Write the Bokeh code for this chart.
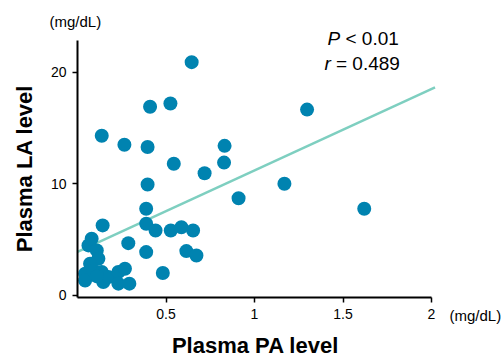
import math
from bokeh.plotting import figure
from bokeh.models import Label, FixedTicker, Range1d
from bokeh.embed import file_html
from bokeh.resources import INLINE

# ---- data ----
pa_level = [0.645, 0.41, 0.525, 0.137, 0.265, 0.396, 0.831, 0.544, 0.718, 0.828,
            0.396, 0.91, 0.388, 1.297, 1.169, 1.62,
            0.388, 0.441, 0.527, 0.587, 0.653, 0.388, 0.615, 0.672, 0.482, 0.142, 0.287,
            0.062, 0.08, 0.109, 0.118, 0.071, 0.043, 0.043, 0.09, 0.137, 0.146, 0.175,
            0.231, 0.268, 0.231, 0.293, 0.11]
la_level = [20.9, 16.9, 17.2, 14.3, 13.5, 13.3, 13.4, 11.8, 10.95, 11.9,
            9.94, 8.7, 7.76, 16.65, 10.0, 7.76,
            6.42, 5.82, 5.82, 6.11, 5.82, 3.88, 3.97, 3.58, 2.0, 6.27, 4.68,
            4.48, 5.07, 4.03, 3.28, 2.84, 1.94, 1.34, 2.24, 2.09, 1.19, 1.64,
            2.09, 2.39, 1.05, 1.05, 1.7]
fit_intercept = 3.9
fit_slope = 7.3
fit_x = [0.0, 2.02]
fit_y = [fit_intercept + fit_slope * v for v in fit_x]
x_ticks = [0.5, 1, 1.5, 2]
y_ticks = [0, 10, 20]
x_axis_span = (0.0, 2.0)
y_axis_span = (-0.19, 22.84)

FONT = "Liberation Sans"
DOT = "#0083b0"
LINE = "#7ecfc0"

W, H = 503, 358
PPU_X = 177.0
PPU_Y = 257 / 23.03
X0_PX, Y0_PX = 77, 297  # page pixel of (x_axis_span[0], y_axis_span[0])

x_start = x_axis_span[0] - X0_PX / PPU_X
x_end = x_axis_span[0] + (W - X0_PX) / PPU_X
y_start = y_axis_span[0] - (H - Y0_PX) / PPU_Y
y_end = y_axis_span[0] + Y0_PX / PPU_Y

p = figure(width=W, height=H, min_border=0,
           x_range=Range1d(x_start, x_end), y_range=Range1d(y_start, y_end),
           output_backend="svg", toolbar_location=None)
p.outline_line_color = None
p.grid.visible = False
p.background_fill_color = "white"
p.border_fill_color = "white"

for ax in (p.xaxis[0], p.yaxis[0]):
    ax.axis_line_width = 2
    ax.axis_line_color = "black"
    ax.major_tick_line_color = "black"
    ax.major_tick_line_width = 1.5
    ax.major_tick_out = 5
    ax.major_tick_in = 0
    ax.minor_tick_line_color = None
    ax.major_label_text_font = FONT
    ax.major_label_text_font_size = "14px"
    ax.major_label_text_color = "black"

p.xaxis.fixed_location = y_axis_span[0]
p.yaxis.fixed_location = x_axis_span[0]
p.xaxis.bounds = x_axis_span
p.yaxis.bounds = y_axis_span
p.xaxis.ticker = FixedTicker(ticks=x_ticks)
p.yaxis.ticker = FixedTicker(ticks=y_ticks)
p.xaxis.major_label_overrides = {0.5: "0.5", 1: "1", 1.5: "1.5", 2: "2"}
p.yaxis.major_label_overrides = {0: "0", 10: "10", 20: "20"}
p.xaxis.major_label_standoff = 6
p.yaxis.major_label_standoff = 6

p.line(fit_x, fit_y, line_color=LINE, line_width=2.5)
p.scatter(pa_level, la_level, size=14, fill_color=DOT, line_color=DOT, line_width=0)

def px_x(px):  # page pixel -> data x
    return x_axis_span[0] + (px - X0_PX) / PPU_X

def px_y(py):
    return y_axis_span[0] + (Y0_PX - py) / PPU_Y

def lab(text, x, y, size, align="left", baseline="middle", style="normal", angle=0):
    p.add_layout(Label(x=x, y=y, text=text, text_font=FONT, text_font_size=size,
                       text_align=align, text_baseline=baseline, text_font_style=style,
                       text_color="black", angle=angle))

lab("(mg/dL)", px_x(49), px_y(21), "15px")
lab("(mg/dL)", px_x(449), px_y(315), "15px")
lab("P", px_x(327), px_y(38), "19px", style="italic")
lab("< 0.01", px_x(345), px_y(38), "19px")
lab("r", px_x(324), px_y(62.5), "19px", style="italic")
lab("= 0.489", px_x(335.5), px_y(62.5), "19px")
lab("Plasma PA level", px_x(255), px_y(344.5), "22px", align="center", style="bold")
lab("Plasma LA level", px_x(23.5), px_y(168), "22px", align="center", style="bold", angle=math.pi / 2)

open("out.html", "w").write(file_html(p, INLINE))
